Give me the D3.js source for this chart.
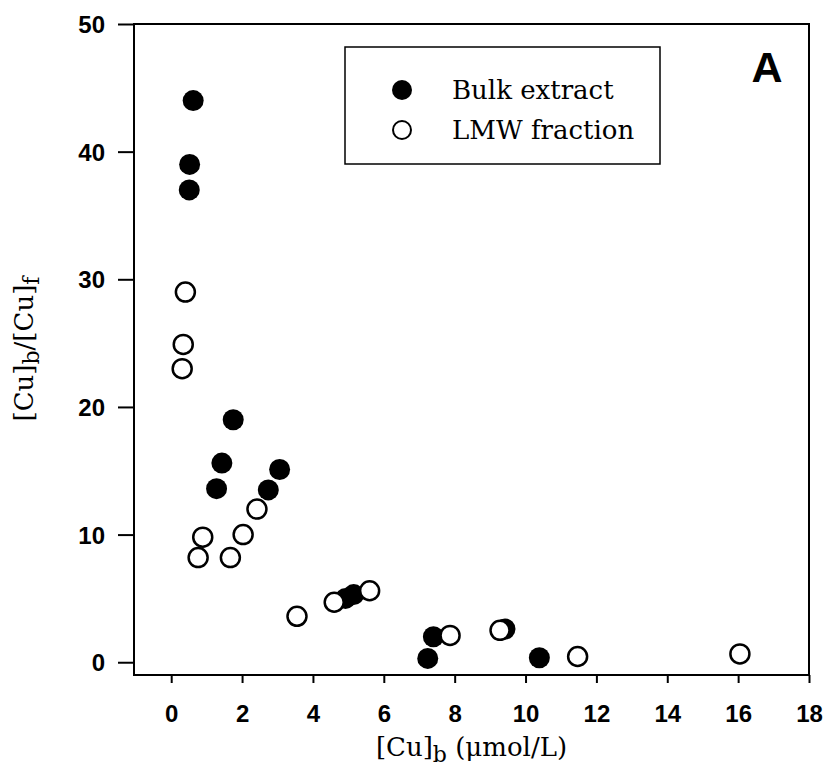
<!DOCTYPE html>
<html>
<head>
<meta charset="utf-8">
<script src="https://cdn.jsdelivr.net/npm/d3@7"></script>
<style>
  body { margin: 0; background: #fff; }
</style>
</head>
<body>
<script>
// bulk extract (filled)
var bulkX = [0.62, 0.52, 0.51, 1.75, 1.43, 1.28, 3.06, 2.74, 4.92, 5.15, 7.24, 7.40, 9.42, 10.39];
var bulkY = [44.0, 39.0, 37.0, 19.0, 15.6, 13.6, 15.1, 13.5, 5.0, 5.3, 0.3, 2.0, 2.6, 0.35];
// LMW fraction (open)
var lmwX = [0.40, 0.34, 0.31, 0.89, 0.76, 1.67, 2.03, 2.42, 3.55, 4.60, 5.60, 7.87, 9.28, 11.47, 16.05];
var lmwY = [29.0, 24.9, 23.0, 9.8, 8.2, 8.2, 10.0, 12.0, 3.6, 4.7, 5.6, 2.1, 2.5, 0.45, 0.65];

var xTicks = [0, 2, 4, 6, 8, 10, 12, 14, 16, 18];
var yTicks = [0, 10, 20, 30, 40, 50];
var legendNames = ["Bulk extract", "LMW fraction"];

var width = 831, height = 777;
var pLeft = 134, pRight = 809, pTop = 24, pBottom = 675;

var svg = d3.select("body").append("svg")
    .attr("width", width)
    .attr("height", height);

var x = d3.scaleLinear().domain([-1.05, 18]).range([pLeft, pRight]);
var y = d3.scaleLinear().domain([-1.0, 50]).range([pBottom, pTop]);

// frame
svg.append("rect")
    .attr("x", pLeft).attr("y", pTop)
    .attr("width", pRight - pLeft).attr("height", pBottom - pTop)
    .attr("fill", "none").attr("stroke", "#000").attr("stroke-width", 2);

var xAxis = d3.axisBottom(x).tickValues(xTicks).tickSize(8).tickSizeOuter(0).tickPadding(22);
var yAxis = d3.axisLeft(y).tickValues(yTicks).tickSize(16).tickSizeOuter(0).tickPadding(13);

var gx = svg.append("g")
    .attr("transform", "translate(0," + pBottom + ")")
    .call(xAxis);
var gy = svg.append("g")
    .attr("transform", "translate(" + pLeft + ",0)")
    .call(yAxis);

[gx, gy].forEach(function (g) {
    g.select(".domain").remove();
    g.attr("font-size", null).attr("font-family", null);
    g.selectAll(".tick line").attr("stroke", "#000").attr("stroke-width", 2);
    g.selectAll(".tick text")
        .attr("fill", "#000")
        .style("font-family", "'Liberation Sans', Arial, sans-serif")
        .style("font-weight", "bold")
        .style("font-size", "24px");
});
gy.selectAll(".tick text").attr("dy", "0.36em");

// points
svg.selectAll(".bulk")
    .data(d3.range(bulkX.length))
    .enter().append("circle")
    .attr("class", "bulk")
    .attr("cx", function (i) { return x(bulkX[i]); })
    .attr("cy", function (i) { return y(bulkY[i]); })
    .attr("r", 10.5)
    .attr("fill", "#000");

svg.selectAll(".lmw")
    .data(d3.range(lmwX.length))
    .enter().append("circle")
    .attr("class", "lmw")
    .attr("cx", function (i) { return x(lmwX[i]); })
    .attr("cy", function (i) { return y(lmwY[i]); })
    .attr("r", 9.5)
    .attr("fill", "#fff")
    .attr("stroke", "#000")
    .attr("stroke-width", 2.5);

// legend
var serif = "'DejaVu Serif', serif";
svg.append("rect")
    .attr("x", 345).attr("y", 47)
    .attr("width", 315).attr("height", 117)
    .attr("fill", "#fff").attr("stroke", "#000").attr("stroke-width", 1.5);

var leg = svg.selectAll(".leg")
    .data(legendNames)
    .enter().append("g")
    .attr("class", "leg")
    .attr("transform", function (d, i) { return "translate(402," + (90 + i * 40) + ")"; });

leg.append("circle")
    .attr("r", function (d, i) { return i == 0 ? 10 : 9; })
    .attr("fill", function (d, i) { return i == 0 ? "#000" : "#fff"; })
    .attr("stroke", "#000")
    .attr("stroke-width", function (d, i) { return i == 0 ? 0 : 2; });

leg.append("text")
    .attr("x", 50).attr("y", 9)
    .style("font-family", serif)
    .style("font-size", "26px")
    .text(function (d) { return d; });

svg.append("text")
    .attr("x", 767).attr("y", 82)
    .attr("text-anchor", "middle")
    .style("font-family", "'Liberation Sans', Arial, sans-serif")
    .style("font-weight", "bold")
    .style("font-size", "43px")
    .text("A");

// axis titles
var xt = svg.append("text")
    .attr("x", (pLeft + pRight) / 2).attr("y", 756)
    .attr("text-anchor", "middle")
    .style("font-family", serif)
    .style("font-size", "26px");
xt.append("tspan").text("[Cu]");
xt.append("tspan").attr("dy", 6).style("font-size", "22px").text("b");
xt.append("tspan").attr("dy", -6).text(" (μmol/L)");

var yt = svg.append("text")
    .attr("transform", "translate(33,349) rotate(-90)")
    .attr("text-anchor", "middle")
    .style("font-family", serif)
    .style("font-size", "26px");
yt.append("tspan").text("[Cu]");
yt.append("tspan").attr("dy", 6).style("font-size", "22px").text("b");
yt.append("tspan").attr("dy", -6).text("/[Cu]");
yt.append("tspan").attr("dy", 6).style("font-size", "22px").text("f");
</script>
</body>
</html>
